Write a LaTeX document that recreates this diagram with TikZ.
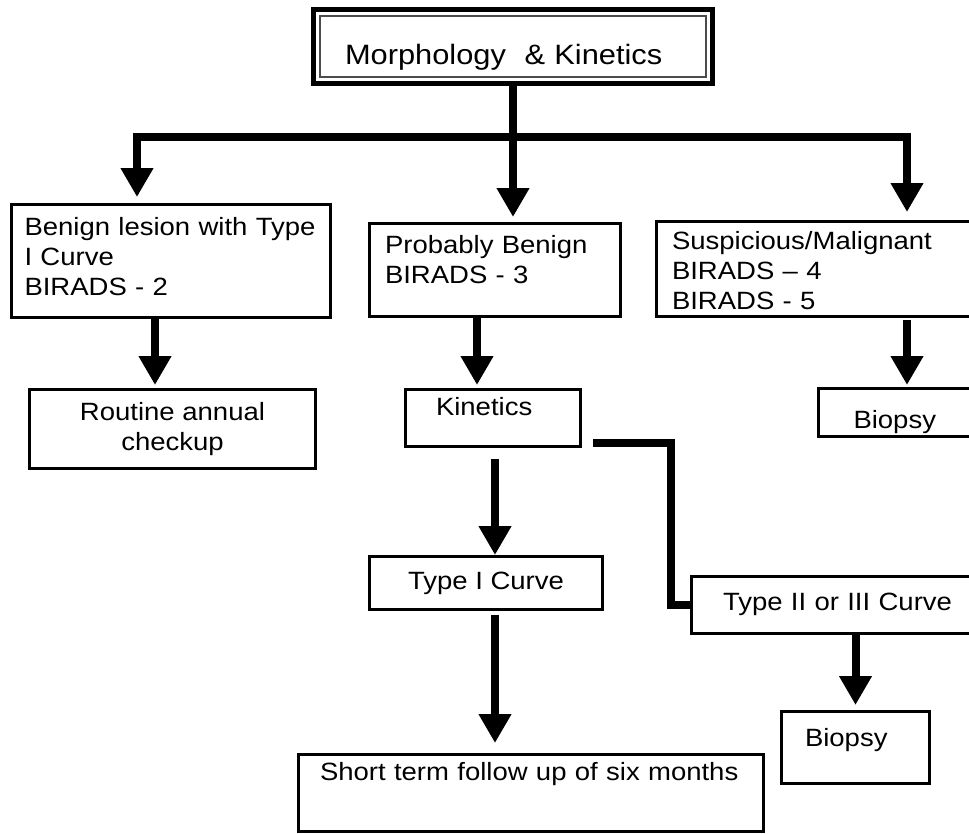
\documentclass[tikz,border=0pt]{standalone}
\usepackage{fontspec}
\setmainfont{Liberation Sans}[FakeStretch=1.1]
\usetikzlibrary{arrows.meta}
\usetikzlibrary{positioning}

\begin{document}
\begin{tikzpicture}[x=1pt,y=-1pt,
    flowbox/.style={draw,line width=3pt,rectangle,anchor=north west,inner ysep=0pt,
      font=\fontsize{25}{30}\selectfont,align=left},
    link/.style={line width=8pt},
    flow/.style={line width=8pt,-{Triangle[width=31pt,length=29pt]}}]
  \useasboundingbox (0,0) rectangle (969,833);
  \clip (0,0) rectangle (969,833);

  % top box, double frame
  \node[flowbox,line width=5pt,minimum width=399pt,minimum height=74pt,inner xsep=31.5pt,
    text width=336pt,text height=35pt,text depth=0pt,font=\fontsize{28}{34}\selectfont]
    (morph) at (311,7) {Morphology\ \ \& Kinetics};
  \draw[line width=2pt,black!70] ([shift={(9pt,-9pt)}]morph.north west) rectangle ([shift={(-9pt,9pt)}]morph.south east);

  % second row
  \node[flowbox,minimum width=319pt,minimum height=113pt,inner xsep=13pt,
    text width=293pt,text height=18pt,text depth=70pt]
    (benign) at (10,203) {Benign lesion with Type\\I Curve\\BIRADS - 2};
  \node[flowbox,minimum width=251pt,minimum height=93pt,inner xsep=15.5pt,
    text width=220pt,text height=18pt,text depth=52pt]
    (probably) at (368,222) {Probably Benign\\BIRADS - 3};
  \node[flowbox,minimum width=317pt,minimum height=95pt,inner xsep=15.5pt,
    text width=286pt,text height=18pt,text depth=58pt]
    (susp) at (655,220) {Suspicious/Malignant\\BIRADS -- 4\\BIRADS - 5};

  % third row
  \node[flowbox,align=center,minimum width=286pt,minimum height=79pt]
    (routine) at (28,388) {Routine annual\\checkup};
  \node[flowbox,minimum width=175pt,minimum height=57pt,inner xsep=30.5pt,
    text width=114pt,text height=18pt,text depth=24pt]
    (kinetics) at (404,388) {Kinetics};
  \node[flowbox,minimum width=160pt,minimum height=48pt,inner xsep=35pt,
    text width=90pt,text height=31pt,text depth=0pt]
    (biopsyA) at (817,387) {Biopsy};

  % curves
  \node[flowbox,align=center,minimum width=233pt,minimum height=53pt]
    (typeI) at (368,555) {Type I Curve};
  \node[flowbox,minimum width=297pt,minimum height=57pt,inner xsep=31.5pt,
    text width=234pt,text height=18pt,text depth=8pt]
    (typeII) at (690,575) {Type II or III Curve};
  \node[flowbox,minimum width=148pt,minimum height=72pt,inner xsep=23.5pt,
    text width=101pt,text height=18pt,text depth=21pt]
    (biopsyB) at (780,710) {Biopsy};
  \node[flowbox,minimum width=465pt,minimum height=77pt,inner xsep=21.5pt,
    text width=422pt,text height=18pt,text depth=44pt]
    (short) at (297,753) {Short term follow up of six months};

  % connectors
  \coordinate (forkL) at (137,137);
  \coordinate (forkR) at (907,137);
  \coordinate (kinout) at (593,443);
  \draw[link,line cap=rect] (forkL) -- (forkR);
  \draw[flow,shorten >=5pt] (morph.south) -- (morph.south |- probably.north);
  \draw[flow,shorten >=6pt] (forkL) -- (forkL |- benign.north);
  \draw[flow,shorten >=8pt] (forkR) -- (forkR |- susp.north);
  \draw[flow,shorten >=3pt] ([xshift=-16pt]benign.south) -- ([xshift=-16pt]benign.south |- routine.north);
  \draw[flow,shorten >=3pt] ([xshift=-18pt]probably.south) -- ([xshift=-18pt]probably.south |- kinetics.north);
  \draw[flow,shorten <=2pt,shorten >=2pt] (forkR |- susp.south) -- (forkR |- biopsyA.north);
  \draw[flow,shorten <=11pt] ([xshift=2pt]kinetics.south) -- ([xshift=2pt]kinetics.south |- typeI.north);
  \draw[flow,shorten <=4pt,shorten >=10pt] ([xshift=9pt]typeI.south) -- ([xshift=9pt]typeI.south |- short.north);
  \draw[flow,shorten >=5pt] (typeII.south -| biopsyB.north) -- (biopsyB.north);
  \draw[link] (kinout) -- ++(78,0) |- (typeII.west);
\end{tikzpicture}
\end{document}
